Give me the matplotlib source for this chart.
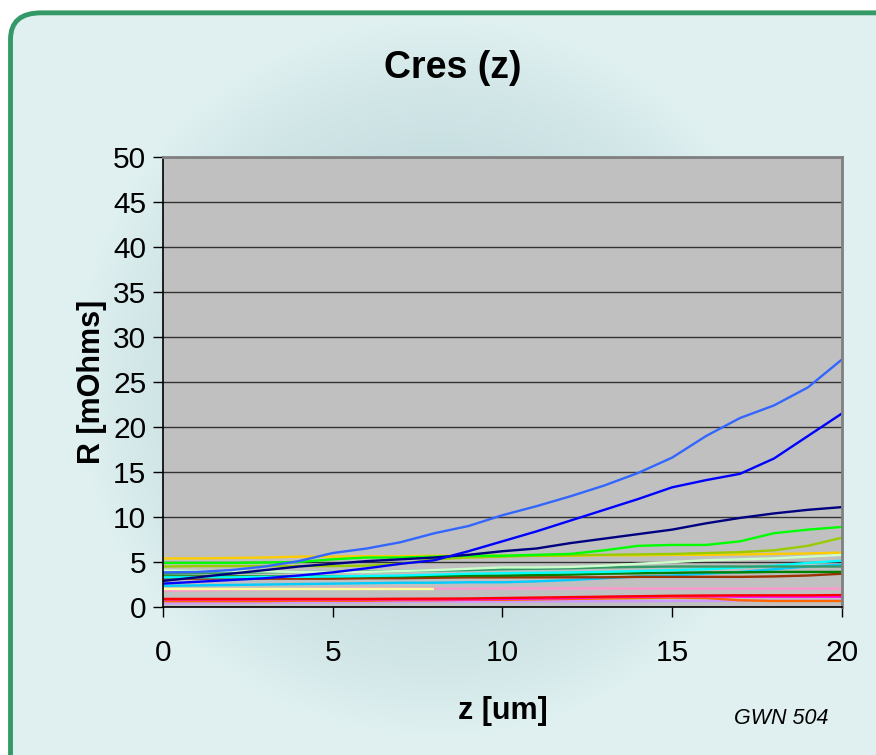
import numpy as np
import matplotlib.pyplot as plt
from matplotlib.patches import FancyBboxPatch

plt.rcParams['font.family'] = ['Liberation Sans', 'DejaVu Sans']

# z positions [um]
z = list(range(21))

# R [mOhms] per contact
r_royal = [3.85, 3.9, 4.1, 4.5, 5.1, 6.0, 6.5, 7.2, 8.2, 9.0, 10.2, 11.2, 12.3, 13.5, 14.9, 16.6, 19.0, 21.0, 22.4, 24.4, 27.5]
r_blue = [2.6, 2.8, 3.0, 3.2, 3.5, 3.85, 4.3, 4.8, 5.2, 6.2, 7.3, 8.4, 9.6, 10.8, 12.0, 13.3, 14.1, 14.8, 16.5, 19.0, 21.5]
r_navy = [2.9, 3.3, 3.7, 4.1, 4.5, 4.8, 5.1, 5.3, 5.5, 5.8, 6.2, 6.5, 7.1, 7.6, 8.1, 8.6, 9.3, 9.9, 10.4, 10.8, 11.1]
r_lime = [4.9, 4.9, 4.9, 4.95, 5.0, 5.3, 5.5, 5.5, 5.6, 5.7, 5.7, 5.8, 5.9, 6.3, 6.8, 6.9, 6.9, 7.3, 8.2, 8.6, 8.9]
r_olive = [4.5, 4.55, 4.55, 4.55, 4.55, 4.55, 4.6, 4.8, 5.3, 5.5, 5.6, 5.7, 5.75, 5.8, 5.85, 5.9, 6.0, 6.1, 6.3, 6.8, 7.7]
r_gold = [5.4, 5.4, 5.45, 5.5, 5.6, 5.6, 5.65, 5.65, 5.7, 5.7, 5.7, 5.7, 5.7, 5.75, 5.75, 5.8, 5.8, 5.85, 5.9, 5.95, 6.05]
r_pale = [4.05, 4.0, 4.0, 3.95, 3.9, 3.9, 3.9, 4.0, 4.1, 4.25, 4.4, 4.4, 4.45, 4.6, 4.8, 5.0, 5.2, 5.3, 5.4, 5.6, 5.8]
r_sea = [3.7, 3.75, 3.8, 3.85, 3.9, 3.9, 3.95, 4.0, 4.05, 4.1, 4.2, 4.25, 4.3, 4.4, 4.45, 4.5, 4.5, 4.5, 4.5, 4.5, 4.5]
r_cyan = [3.3, 3.3, 3.3, 3.35, 3.35, 3.4, 3.45, 3.5, 3.6, 3.7, 3.75, 3.8, 3.85, 3.9, 4.0, 4.1, 4.2, 4.4, 4.6, 4.9, 5.15]
r_green = [3.4, 3.4, 3.4, 3.4, 3.4, 3.4, 3.4, 3.4, 3.45, 3.5, 3.5, 3.55, 3.6, 3.7, 3.75, 3.8, 3.85, 3.85, 3.9, 3.9, 3.9]
r_brown = [3.15, 3.15, 3.15, 3.15, 3.15, 3.15, 3.2, 3.2, 3.25, 3.3, 3.3, 3.3, 3.3, 3.3, 3.35, 3.35, 3.35, 3.35, 3.4, 3.5, 3.7]
r_sky = [2.35, 2.4, 2.45, 2.5, 2.55, 2.6, 2.65, 2.7, 2.7, 2.75, 2.75, 2.85, 3.0, 3.2, 3.4, 3.5, 3.7, 3.9, 4.2, 4.5, 4.7]
r_lemon = [2.0, 2.0, 2.0, 2.0, 2.0, 2.0, 2.0, 2.0, 2.0, None, None, None, None, None, None, None, None, None, None, None, None]
r_pink = [1.8, 1.85, 1.9, 1.95, 2.0, 2.05, 2.05, 2.05, 2.05, 2.05, 2.07, 2.07, 2.07, 2.07, 2.05, 2.05, 2.05, 2.05, 2.05, 2.05, 2.05]
r_red = [0.9, 0.9, 0.9, 0.9, 0.9, 0.9, 0.9, 0.92, 0.93, 0.95, 1.0, 1.05, 1.1, 1.15, 1.2, 1.25, 1.28, 1.3, 1.3, 1.3, 1.33]
r_magenta = [0.85, 0.85, 0.85, 0.85, 0.85, 0.85, 0.85, 0.85, 0.85, 0.85, 0.9, 0.95, 1.0, 1.1, 1.15, 1.2, 1.2, 1.15, 1.15, 1.15, 1.15]
r_orange = [0.65, 0.65, 0.65, 0.65, 0.7, 0.7, 0.7, 0.75, 0.75, 0.8, 0.8, 0.85, 0.9, 0.95, 1.0, 1.05, 1.0, 0.75, 0.67, 0.67, 0.67]
r_lavender = [0.4, 0.42, 0.45, 0.48, 0.5, 0.52, 0.55, 0.57, 0.6, 0.6, 0.6, 0.62, 0.63, 0.65, 0.65, 0.67, 0.68, 0.7, 0.7, 0.7, 0.7]

series = [
    (r_lavender, "#cc99ff"), (r_orange, "#ff6600"), (r_magenta, "#ff00ff"), (r_red, "#ff0000"),
    (r_pink, "#ff99cc"), (r_lemon, "#ffff99"), (r_sky, "#00ccff"), (r_brown, "#993300"),
    (r_green, "#008000"), (r_cyan, "#00ffff"), (r_sea, "#339966"), (r_pale, "#ccffcc"),
    (r_gold, "#ffcc00"), (r_olive, "#99cc00"), (r_lime, "#00ff00"), (r_navy, "#000080"),
    (r_blue, "#0000ff"), (r_royal, "#3366ff"),
]

fig = plt.figure(figsize=(8.76, 7.55), dpi=100)
fig.patch.set_facecolor("white")

# background with soft radial shading
bg = fig.add_axes([0, 0, 1, 1], zorder=-10)
yy, xx = np.mgrid[0:1:300j, 0:1:300j]
d = np.sqrt(((xx - 0.5) / 0.42) ** 2 + ((yy - 0.5) / 0.48) ** 2)
t = np.clip(d, 0, 1) ** 2.5
c_in = np.array([0.75, 0.85, 0.86])
c_out = np.array([0.88, 0.945, 0.945])
img = c_in[None, None, :] * (1 - t[..., None]) + c_out[None, None, :] * t[..., None]
im = bg.imshow(img, extent=[0, 1, 0, 1], origin="lower", aspect="auto")
bg.set_xlim(0, 1)
bg.set_ylim(0, 1)
bg.axis("off")

# green rounded frame
box = dict(boxstyle="round,pad=0,rounding_size=0.035", transform=fig.transFigure)
frame = FancyBboxPatch((0.012, -0.05), 1.05, 1.033, facecolor="none", edgecolor="#339966",
                       linewidth=3.5, zorder=5, **box)
fig.patches.append(frame)
corner = FancyBboxPatch((0.012, -0.05), 1.05, 1.033, facecolor="none", edgecolor="none", **box)
im.set_clip_path(corner)

ax = fig.add_axes([0.186, 0.196, 0.775, 0.596])
ax.set_facecolor("#c0c0c0")
for vals, col in series:
    v = np.array([np.nan if x is None else x for x in vals], dtype=float)
    ax.plot(z, v, color=col, linewidth=1.7, solid_capstyle="butt")

ax.set_xlim(0, 20)
ax.set_ylim(0, 50)
ax.set_xticks([0, 5, 10, 15, 20])
ax.set_yticks(range(0, 51, 5))
ax.yaxis.grid(True, color="#333333", linewidth=1.0)
ax.set_axisbelow(True)
ax.tick_params(axis="both", direction="out", length=7, width=1, labelsize=21.5, color="black")
ax.tick_params(axis="x", pad=16)
ax.tick_params(axis="y", pad=5)
for s in ["left", "bottom"]:
    ax.spines[s].set_color("black")
    ax.spines[s].set_linewidth(1.2)
for s in ["top", "right"]:
    ax.spines[s].set_color("#808080")
    ax.spines[s].set_linewidth(2)

ax.set_xlabel("z [um]", fontsize=22, fontweight="bold", labelpad=21)
ax.set_ylabel("R [mOhms]", fontsize=22, fontweight="bold", labelpad=4)
fig.text(0.517, 0.91, "Cres (z)", fontsize=27, fontweight="bold", ha="center", va="center")
fig.text(0.892, 0.049, "GWN 504", fontsize=15.5, style="italic", ha="center", va="center")

plt.savefig("out.png", dpi=100)
